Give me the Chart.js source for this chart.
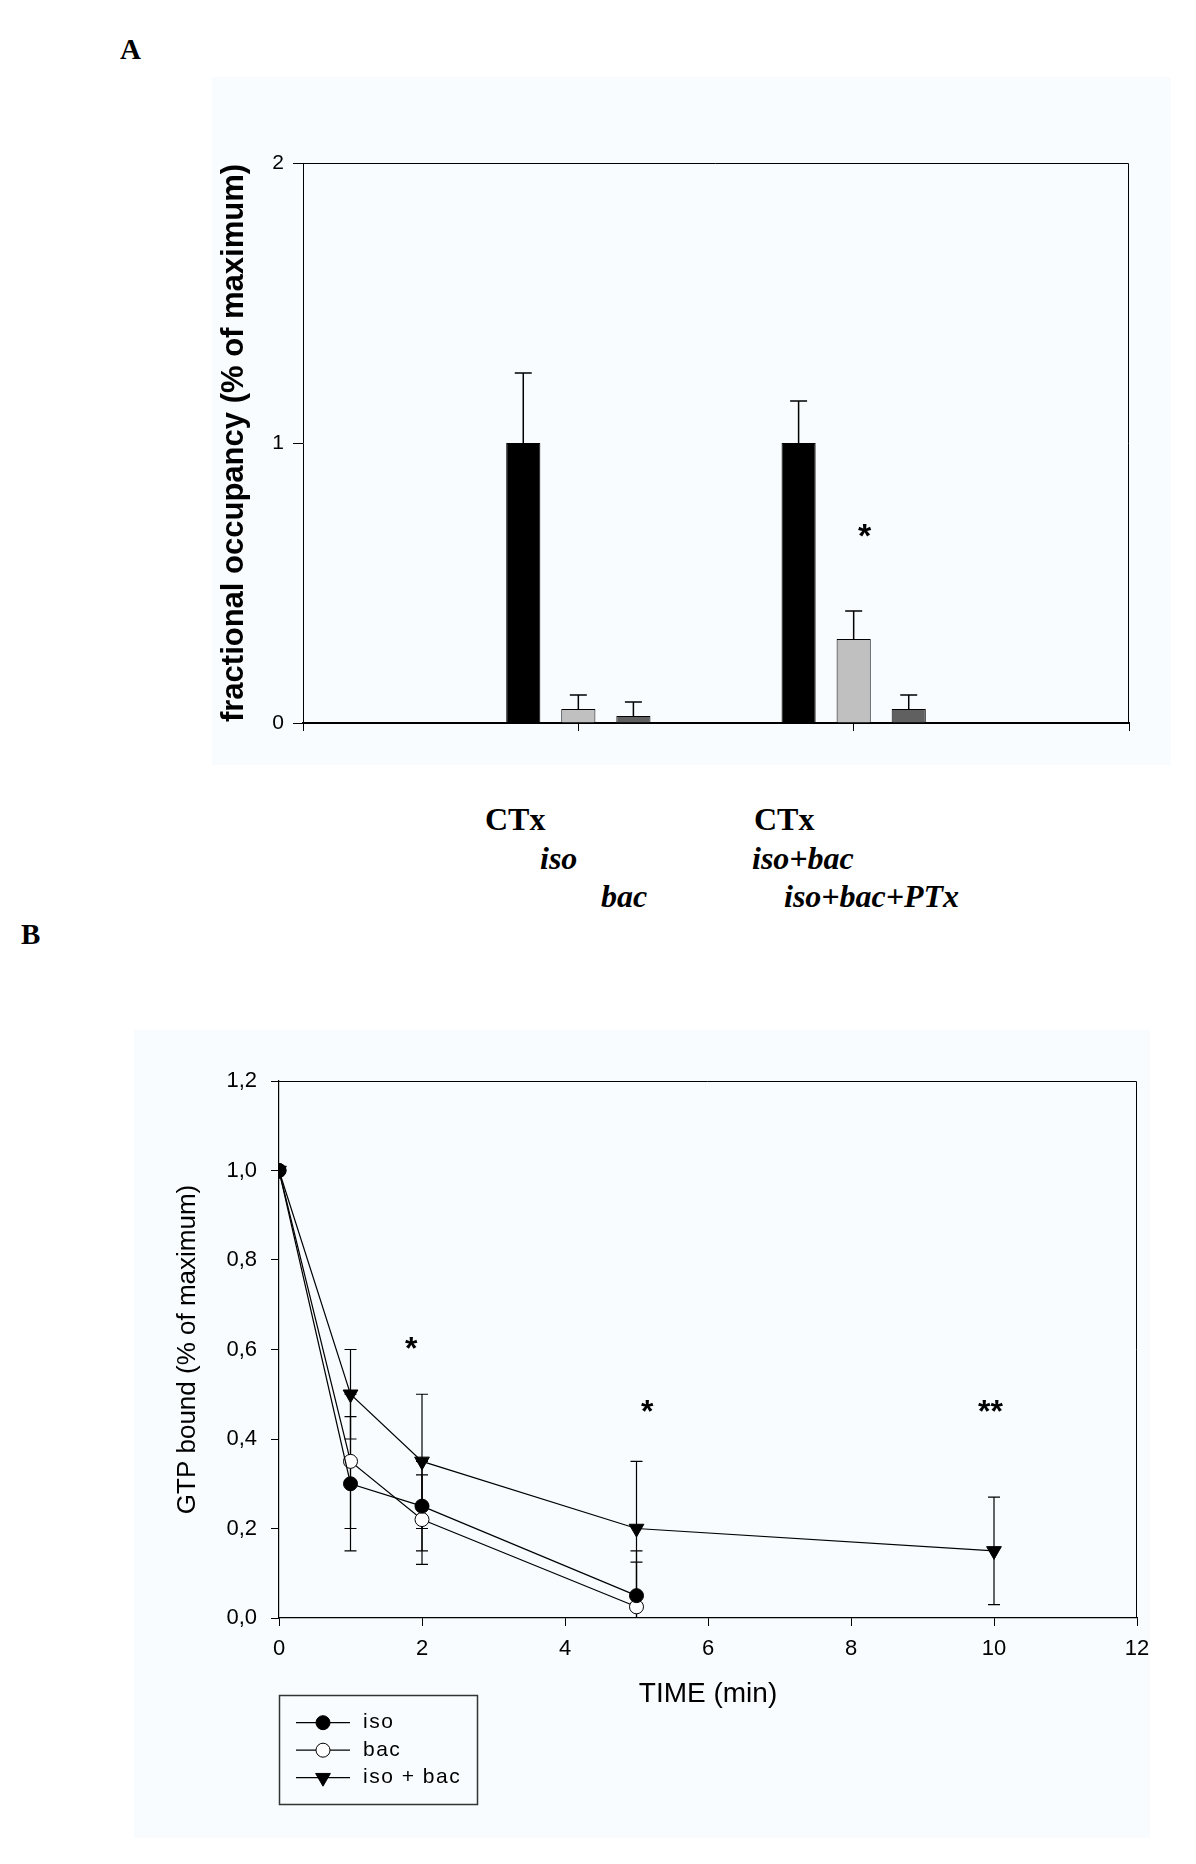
<!DOCTYPE html>
<html>
<head>
<meta charset="utf-8">
<title>GTP occupancy figure</title>
<script src="https://cdn.jsdelivr.net/npm/chart.js@4.4.1/dist/chart.umd.min.js"></script>
<style>
    html, body { margin: 0; padding: 0; background: #fff; }
    body { position: relative; width: 1196px; height: 1864px; overflow: hidden; }
    canvas { position: absolute; background: #f8fcfe; }
    #panelA { left: 212px; top: 77px; }
    #panelB { left: 134px; top: 1030px; }
    .serif { position: absolute; font-family: 'Liberation Serif', 'Times New Roman', serif; font-weight: bold;
             font-size: 32px; line-height: 32px; white-space: nowrap; color: #000; }
    .it { font-style: italic; }
</style>
</head>
<body>
<div class="serif" style="left:120px;top:33px;font-size:29px;">A</div>
<div class="serif" style="left:21px;top:918px;font-size:29px;">B</div>
<div class="serif" style="left:485px;top:803px;">CTx</div>
<div class="serif it" style="left:540px;top:842px;">iso</div>
<div class="serif it" style="left:601px;top:880px;">bac</div>
<div class="serif" style="left:754px;top:803px;">CTx</div>
<div class="serif it" style="left:752px;top:842px;">iso+bac</div>
<div class="serif it" style="left:784px;top:880px;">iso+bac+PTx</div>
<canvas id="panelA" width="959" height="688"></canvas>
<canvas id="panelB" width="1016" height="808"></canvas>
<script>
// panel A: fractional occupancy, two groups sitting on a 0..3 category axis
var groupsA   = ['', 'CTx / iso / bac', 'CTx / iso+bac / iso+bac+PTx', ''];
var ctxVals   = [null, 1.00, 1.00, null];
var ctxErr    = [null, 0.25, 0.15, null];
var agoVals   = [null, 0.05, 0.30, null];
var agoErr    = [null, 0.05, 0.10, null];
var thirdVals = [null, 0.025, 0.05, null];
var thirdErr  = [null, 0.05, 0.05, null];
var yTicksA   = [0, 1, 2];
var starAX    = [2.04];
var starAY    = [0.70];
var starAText = ['*'];

// panel B: GTP bound over time
var timeShort  = [0, 1, 2, 5];
var timeLong   = [0, 1, 2, 5, 10];
var isoVals    = [1.0, 0.30, 0.25, 0.05];
var isoErr     = [0, 0.15, 0.10, 0.075];
var bacVals    = [1.0, 0.35, 0.22, 0.025];
var bacErr     = [0, 0.15, 0.10, 0.125];
var isoBacVals = [1.0, 0.50, 0.35, 0.20, 0.15];
var isoBacErr  = [0, 0.10, 0.15, 0.15, 0.12];
var xTicksB    = [0, 2, 4, 6, 8, 10, 12];
var yTicksB    = [0, 0.2, 0.4, 0.6, 0.8, 1.0, 1.2];
var starBX     = [1.85, 5.15, 9.95];
var starBY     = [0.62, 0.48, 0.48];
var starBText  = ['*', '*', '**'];

(function () {
    if (typeof Chart === 'undefined') return;

    var SANS = "'Liberation Sans', Arial, sans-serif";
    Chart.defaults.font.family = SANS;
    Chart.defaults.color = '#000';
    Chart.defaults.animation = false;

    function tickList(list) {
        return function (scale) { scale.ticks = list.map(function (v) { return { value: v }; }); };
    }

    // pin a scale's thickness and drop the label overhang padding
    function fixSize(prop, size) {
        return function (s) {
            s[prop] = size;
            s.paddingLeft = s.paddingRight = s.paddingTop = s.paddingBottom = 0;
        };
    }

    function pts(xs, ys) {
        return xs.map(function (x, i) { return { x: x, y: ys[i] }; });
    }

    var frame = {
        id: 'frame',
        afterDatasetsDraw: function (chart) {
            var a = chart.chartArea, ctx = chart.ctx;
            ctx.save();
            ctx.strokeStyle = '#000';
            ctx.lineWidth = 1;
            ctx.beginPath();
            ctx.moveTo(Math.round(a.left), Math.round(a.top) + 0.5);
            ctx.lineTo(Math.round(a.right) - 0.5, Math.round(a.top) + 0.5);
            ctx.lineTo(Math.round(a.right) - 0.5, Math.round(a.bottom));
            ctx.stroke();
            ctx.restore();
        }
    };

    function stars(xs, ys, texts, size) {
        return {
            id: 'stars',
            afterDatasetsDraw: function (chart) {
                var ctx = chart.ctx, sx = chart.scales.x, sy = chart.scales.y;
                ctx.save();
                ctx.font = 'bold ' + size + 'px ' + SANS;
                ctx.textAlign = 'center';
                ctx.textBaseline = 'alphabetic';
                ctx.fillStyle = '#000';
                xs.forEach(function (x, i) {
                    ctx.fillText(texts[i], sx.getPixelForValue(x), sy.getPixelForValue(ys[i]) + size * 0.58);
                });
                ctx.restore();
            }
        };
    }

    // upper error whiskers on the bars
    var barErrors = {
        id: 'barErrors',
        afterDatasetsDraw: function (chart) {
            var ctx = chart.ctx, sy = chart.scales.y;
            ctx.save();
            ctx.strokeStyle = '#000';
            ctx.lineWidth = 1.5;
            chart.data.datasets.forEach(function (ds, di) {
                chart.getDatasetMeta(di).data.forEach(function (bar, i) {
                    var v = ds.data[i], e = ds.errors[i];
                    if (v == null || !e) return;
                    var top = sy.getPixelForValue(v + e);
                    ctx.beginPath();
                    ctx.moveTo(bar.x, bar.y);
                    ctx.lineTo(bar.x, top);
                    ctx.moveTo(bar.x - 8.5, top);
                    ctx.lineTo(bar.x + 8.5, top);
                    ctx.stroke();
                });
            });
            ctx.restore();
        }
    };

    // symmetric error bars behind the line markers
    var pointErrors = {
        id: 'pointErrors',
        beforeDatasetsDraw: function (chart) {
            var ctx = chart.ctx, sx = chart.scales.x, sy = chart.scales.y, a = chart.chartArea;
            ctx.save();
            ctx.beginPath();
            ctx.rect(a.left, a.top, a.right - a.left, a.bottom - a.top);
            ctx.clip();
            ctx.strokeStyle = '#000';
            ctx.lineWidth = 1.2;
            chart.data.datasets.forEach(function (ds) {
                ds.data.forEach(function (p, i) {
                    var e = ds.errors[i];
                    if (!e) return;
                    var x = sx.getPixelForValue(p.x);
                    var hi = sy.getPixelForValue(p.y + e), lo = sy.getPixelForValue(p.y - e);
                    ctx.beginPath();
                    ctx.moveTo(x, hi); ctx.lineTo(x, lo);
                    ctx.moveTo(x - 6, hi); ctx.lineTo(x + 6, hi);
                    ctx.moveTo(x - 6, lo); ctx.lineTo(x + 6, lo);
                    ctx.stroke();
                });
            });
            ctx.restore();
        }
    };

    var legendBox = {
        id: 'legendBox',
        afterDraw: function (chart) {
            var a = chart.chartArea, ctx = chart.ctx;
            var left = Math.round(a.left), top = Math.round(a.bottom) + 77;
            ctx.save();
            ctx.strokeStyle = '#333';
            ctx.lineWidth = 1.5;
            ctx.strokeRect(left + 0.5, top + 0.5, 198, 109);
            ctx.font = '21px ' + SANS;
            if ('letterSpacing' in ctx) ctx.letterSpacing = '1.5px';
            ctx.textBaseline = 'middle';
            chart.data.datasets.forEach(function (ds, i) {
                var yy = top + 27.7 + i * 27.5;
                ctx.strokeStyle = '#000';
                ctx.lineWidth = 1.2;
                ctx.beginPath();
                ctx.moveTo(left + 17, yy);
                ctx.lineTo(left + 71, yy);
                ctx.stroke();
                ctx.fillStyle = ds.pointBackgroundColor;
                ctx.lineWidth = 1;
                Chart.helpers.drawPoint(ctx, {
                    pointStyle: ds.pointStyle, rotation: ds.pointRotation || 0,
                    radius: ds.pointRadius, borderWidth: 1
                }, left + 44, yy);
                ctx.fillStyle = '#000';
                ctx.fillText(ds.label, left + 84, yy);
            });
            ctx.restore();
        }
    };

    var barA = document.getElementById('panelA');
    if (barA) {
        new Chart(barA.getContext('2d'), {
            type: 'bar',
            data: {
                labels: groupsA,
                datasets: [
                    { label: 'CTx', data: ctxVals, errors: ctxErr,
                      backgroundColor: '#000', borderColor: '#000', borderWidth: 1 },
                    { label: 'iso / iso+bac', data: agoVals, errors: agoErr,
                      backgroundColor: '#c0c0c0', borderColor: '#000', borderWidth: 1 },
                    { label: 'bac / iso+bac+PTx', data: thirdVals, errors: thirdErr,
                      backgroundColor: '#606060', borderColor: '#000', borderWidth: 1 }
                ]
            },
            options: {
                responsive: false,
                layout: { padding: { top: 86, right: 42, bottom: 0, left: 0 } },
                datasets: { bar: { categoryPercentage: 0.6, barPercentage: 0.62 } },
                plugins: { legend: { display: false }, tooltip: { enabled: false } },
                scales: {
                    x: {
                        offset: false,
                        grid: { offset: false, drawOnChartArea: false, tickLength: 8, color: '#000' },
                        border: { color: '#000', width: 2 },
                        ticks: { display: false },
                        afterFit: fixSize('height', 42)
                    },
                    y: {
                        min: 0, max: 2,
                        afterBuildTicks: tickList(yTicksA),
                        grid: { drawOnChartArea: false, tickLength: 10, color: '#000' },
                        border: { color: '#000', width: 1 },
                        ticks: { font: { size: 21 }, padding: 9 },
                        title: { display: true, text: 'fractional occupancy (% of maximum)',
                                 font: { size: 31, weight: 'bold' }, padding: { top: 4, bottom: 0 } },
                        afterFit: fixSize('width', 91)
                    }
                }
            },
            plugins: [barErrors, frame, stars(starAX, starAY, starAText, 34)]
        });
    }

    var lineB = document.getElementById('panelB');
    if (lineB) {
        new Chart(lineB.getContext('2d'), {
            type: 'line',
            data: {
                datasets: [
                    { label: 'iso', data: pts(timeShort, isoVals), errors: isoErr,
                      borderColor: '#000', borderWidth: 1.2, tension: 0, fill: false,
                      pointStyle: 'circle', pointRadius: 7, pointBorderWidth: 1,
                      pointBackgroundColor: '#000', pointBorderColor: '#000' },
                    { label: 'bac', data: pts(timeShort, bacVals), errors: bacErr,
                      borderColor: '#000', borderWidth: 1.2, tension: 0, fill: false,
                      pointStyle: 'circle', pointRadius: 7, pointBorderWidth: 1,
                      pointBackgroundColor: '#fff', pointBorderColor: '#000' },
                    { label: 'iso + bac', data: pts(timeLong, isoBacVals), errors: isoBacErr,
                      borderColor: '#000', borderWidth: 1.2, tension: 0, fill: false,
                      pointStyle: 'triangle', pointRotation: 180, pointRadius: 8.5, pointBorderWidth: 1,
                      pointBackgroundColor: '#000', pointBorderColor: '#000' }
                ]
            },
            options: {
                responsive: false,
                layout: { padding: { top: 51, right: 13, bottom: 120, left: 0 } },
                plugins: { legend: { display: false }, tooltip: { enabled: false } },
                scales: {
                    x: {
                        type: 'linear', min: 0, max: 12,
                        afterBuildTicks: tickList(xTicksB),
                        grid: { drawOnChartArea: false, tickLength: 8, color: '#000' },
                        border: { color: '#000', width: 1.2 },
                        ticks: { font: { size: 22 }, padding: 10 },
                        title: { display: true, text: 'TIME (min)', font: { size: 28 },
                                 padding: { top: 0, bottom: 7 } },
                        afterFit: fixSize('height', 100)
                    },
                    y: {
                        min: 0, max: 1.2,
                        afterBuildTicks: tickList(yTicksB),
                        grid: { drawOnChartArea: false, tickLength: 8, color: '#000' },
                        border: { color: '#000', width: 1.2 },
                        ticks: { font: { size: 22 }, padding: 14,
                                 callback: function (v) { return v.toFixed(1).replace('.', ','); } },
                        title: { display: true, text: 'GTP bound (% of maximum)', font: { size: 26 },
                                 padding: { top: 38, bottom: 0 } },
                        afterFit: fixSize('width', 145)
                    }
                }
            },
            plugins: [pointErrors, frame, stars(starBX, starBY, starBText, 32), legendBox]
        });
    }
})();
</script>
</body>
</html>
